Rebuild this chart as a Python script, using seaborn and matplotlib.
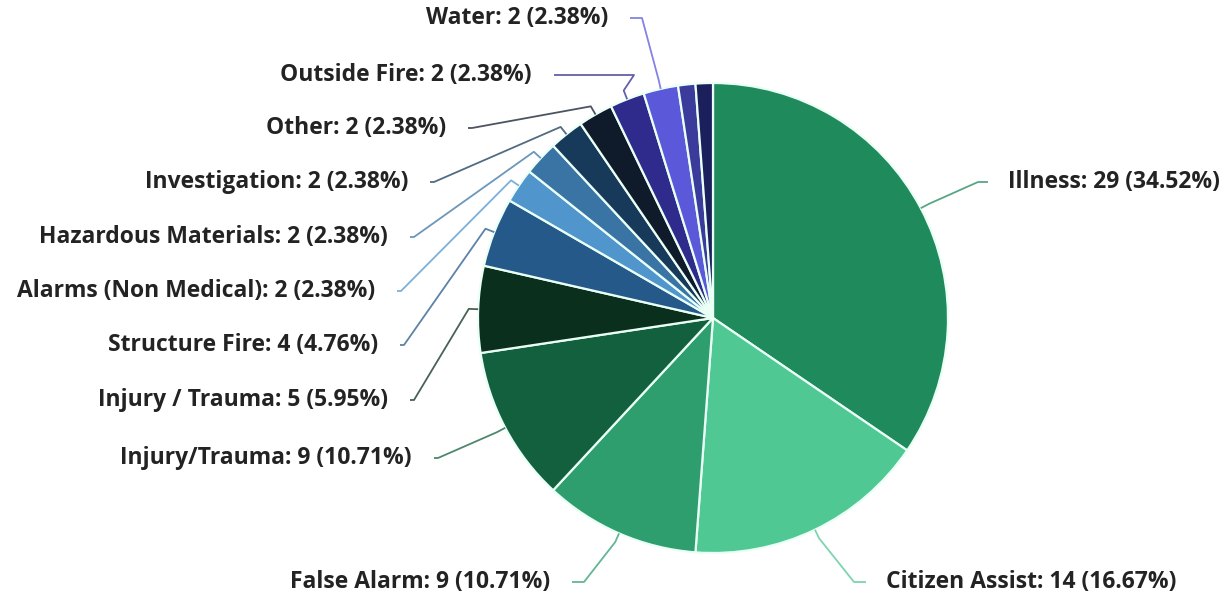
import numpy as np
import seaborn as sns
import matplotlib.pyplot as plt

categories = ["Illness", "Citizen Assist", "False Alarm", "Injury/Trauma",
              "Injury / Trauma", "Structure Fire", "Alarms (Non Medical)",
              "Hazardous Materials", "Investigation", "Other", "Outside Fire",
              "Water", "", ""]
counts = [29, 14, 9, 9, 5, 4, 2, 2, 2, 2, 2, 2, 1, 1]
colors = ["#1f8a5b", "#4fc893", "#2f9e6e", "#12603d", "#0b2f1d", "#25598a",
          "#5096cd", "#3a74a5", "#173a5b", "#0f1b2b", "#2f2b8c", "#5b59d9",
          "#3b3b9c", "#1b1f5c"]

# label layout in pixel coords: (x of text edge, y centre, side)
label_pos = [(1008, 182, "L"), (886, 582, "L"), (550, 582, "R"), (412, 458, "R"),
             (388, 400, "R"), (378, 345, "R"), (375, 291, "R"), (388, 237, "R"),
             (408, 182, "R"), (446, 128, "R"), (532, 75, "R"), (608, 18, "R"),
             None, None]
stub_len = [10, 12, 12, 4, 4, 4, 4, 4, 4, 4, 80, 12, 0, 0]

W, H = 1229, 606
CX, CY, R = 713, 318, 235

sns.set_theme(style="white")
plt.rcParams['font.family'] = ['Open Sans', 'DejaVu Sans']

fig = plt.figure(figsize=(W / 100, H / 100), dpi=100)
ax = fig.add_axes([0, 0, 1, 1])


def px(x, y):
    return (x - CX) / R, (CY - y) / R


wedges, _ = ax.pie(counts, colors=colors, startangle=90, counterclock=False,
                   radius=1.0, center=(0, 0),
                   wedgeprops=dict(edgecolor="#eafff6", linewidth=1.6))
ax.set_xlim(-CX / R, (W - CX) / R)
ax.set_ylim(-(H - CY) / R, CY / R)
ax.set_aspect('equal')
ax.axis('off')

total = sum(counts)
for w, cat, n, pos, stub, col in zip(wedges, categories, counts, label_pos, stub_len, colors):
    if pos is None:
        continue
    ang = np.deg2rad((w.theta1 + w.theta2) / 2)
    p0 = (np.cos(ang), np.sin(ang))
    p1 = (1.04 * np.cos(ang), 1.04 * np.sin(ang))
    tx, ty = pos[0], pos[1]
    if pos[2] == "R":
        end = px(tx + 22, ty)
        mid = px(tx + 22 + stub, ty)
        ha = "right"
    else:
        end = px(tx - 20, ty)
        mid = px(tx - 20 - stub, ty)
        ha = "left"
    xs = [p0[0], p1[0], mid[0], end[0]]
    ys = [p0[1], p1[1], mid[1], end[1]]
    ax.plot(xs, ys, color=col, alpha=0.75, linewidth=1.3, solid_capstyle="butt")
    lx, ly = px(tx, ty)
    ax.text(lx, ly, f"{cat}: {n} ({n / total * 100:.2f}%)", ha=ha, va="center",
            fontsize=16.5, fontweight="bold", color="#232323")

fig.savefig("out.png", dpi=100, facecolor="white")
